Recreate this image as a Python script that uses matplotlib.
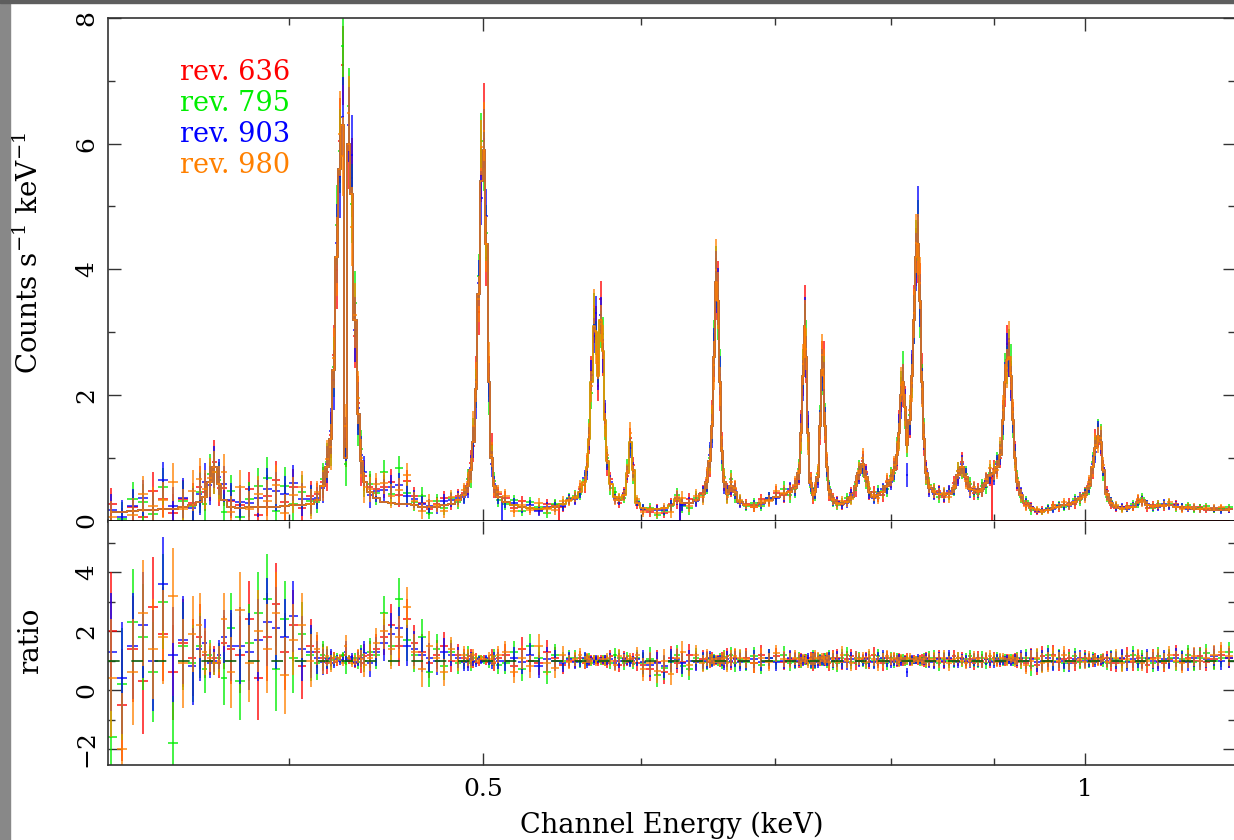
import numpy as np
import matplotlib
matplotlib.use('Agg')
import matplotlib.pyplot as plt
from matplotlib.patches import Rectangle
from matplotlib.ticker import FixedLocator, FixedFormatter, NullFormatter

plt.rcParams['font.family'] = ['DejaVu Serif']
plt.rcParams['mathtext.fontset'] = 'dejavuserif'

# channel energies (keV), one row per stretch of the spectrum
energy = [
    0.326, 0.330, 0.334, 0.338, 0.342, 0.346, 0.350, 0.354, 0.358,
    0.361, 0.363, 0.365, 0.367, 0.369, 0.371, 0.374,
    0.378, 0.382, 0.386, 0.390, 0.394, 0.398, 0.402, 0.406, 0.410,
    0.413, 0.416, 0.418, 0.4195, 0.421, 0.4225, 0.424, 0.4255, 0.427, 0.4285, 0.430, 0.4315, 0.433, 0.4345, 0.436, 0.439,
    0.442, 0.446, 0.450, 0.454, 0.458, 0.462, 0.466, 0.470, 0.474, 0.478, 0.482, 0.486, 0.489,
    0.4915, 0.493, 0.4945, 0.496, 0.4975, 0.499, 0.5005, 0.502, 0.5035, 0.505, 0.5065, 0.509,
    0.513, 0.518, 0.523, 0.528, 0.533, 0.538, 0.543, 0.548, 0.552,
    0.556, 0.559, 0.562, 0.5635, 0.565, 0.5665, 0.568, 0.5695, 0.571, 0.5725, 0.574, 0.5755, 0.577, 0.579, 0.582, 0.585, 0.588, 0.5905, 0.5925, 0.5945, 0.597,
    0.601, 0.606, 0.611, 0.616, 0.621, 0.625, 0.629, 0.634, 0.639, 0.644,
    0.647, 0.649, 0.6505, 0.652, 0.6535, 0.655, 0.6565, 0.658, 0.660, 0.6625, 0.665, 0.668, 0.672,
    0.677, 0.683, 0.689, 0.695, 0.701, 0.707, 0.712,
    0.716, 0.719, 0.721, 0.7225, 0.724, 0.7255, 0.727, 0.729, 0.731, 0.733, 0.735, 0.737, 0.7385, 0.740, 0.7415, 0.743, 0.745, 0.748,
    0.752, 0.756, 0.760, 0.764, 0.768, 0.771, 0.774, 0.777, 0.780, 0.784, 0.788, 0.792, 0.796, 0.800,
    0.803, 0.805, 0.807, 0.809, 0.811, 0.813, 0.815, 0.817, 0.819, 0.821, 0.823, 0.825, 0.827, 0.829, 0.831, 0.833, 0.836,
    0.840, 0.845, 0.850, 0.855, 0.860, 0.864, 0.868, 0.872, 0.876, 0.880, 0.884, 0.888, 0.892, 0.896, 0.900, 0.904, 0.907,
    0.910, 0.912, 0.914, 0.916, 0.918, 0.920, 0.922, 0.925, 0.929,
    0.934, 0.940, 0.946, 0.952, 0.958, 0.964, 0.970, 0.976, 0.982, 0.988, 0.994, 1.000,
    1.005, 1.009, 1.012, 1.015, 1.018, 1.021, 1.025, 1.030,
    1.036, 1.043, 1.050, 1.057, 1.063, 1.068, 1.074, 1.081, 1.088, 1.095, 1.102, 1.110, 1.118, 1.126, 1.134, 1.142, 1.150, 1.160, 1.170, 1.180,
]

# fitted model, counts s^-1 keV^-1
model = [
    0.13, 0.14, 0.15, 0.16, 0.17, 0.18, 0.19, 0.21, 0.25,
    0.30, 0.38, 0.62, 0.85, 0.58, 0.32, 0.22,
    0.20, 0.21, 0.21, 0.22, 0.22, 0.23, 0.24, 0.24, 0.26,
    0.32, 0.55, 0.85, 1.3, 2.4, 4.2, 5.6, 6.3, 1.0, 6.0, 5.2, 3.2, 1.7, 0.95, 0.62, 0.45,
    0.36, 0.30, 0.28, 0.27, 0.26, 0.24, 0.22, 0.21, 0.22, 0.24, 0.27, 0.32, 0.40,
    0.55, 0.80, 1.25, 2.1, 3.6, 5.4, 5.9, 4.4, 2.2, 1.0, 0.55, 0.38,
    0.30, 0.25, 0.22, 0.20, 0.19, 0.20, 0.22, 0.26, 0.33,
    0.36, 0.45, 0.62, 0.85, 1.3, 2.2, 3.1, 3.0, 2.3, 3.2, 2.7, 1.6, 0.95, 0.58, 0.38, 0.32, 0.40, 0.75, 1.25, 0.80, 0.28,
    0.20, 0.19, 0.19, 0.20, 0.24, 0.34, 0.28, 0.28, 0.33, 0.42,
    0.62, 0.95, 1.5, 2.6, 3.8, 3.5, 2.2, 1.1, 0.62, 0.42, 0.55, 0.45, 0.30,
    0.24, 0.24, 0.28, 0.32, 0.38, 0.42, 0.45,
    0.52, 0.75, 1.4, 2.3, 3.1, 2.6, 1.4, 0.60, 0.40, 0.45, 0.70, 1.5, 2.4, 2.3, 1.5, 0.85, 0.48, 0.32,
    0.28, 0.26, 0.30, 0.38, 0.55, 0.75, 0.90, 0.70, 0.45, 0.38, 0.40, 0.45, 0.55, 0.65,
    0.80, 1.05, 1.4, 2.0, 2.2, 1.8, 1.2, 1.6, 2.3, 3.2, 4.2, 4.4, 3.5, 2.2, 1.3, 0.75, 0.52,
    0.45, 0.42, 0.40, 0.42, 0.52, 0.72, 0.85, 0.70, 0.50, 0.48, 0.45, 0.50, 0.60, 0.72, 0.75, 0.85, 1.05,
    1.6, 2.2, 2.55, 2.6, 2.3, 1.6, 1.0, 0.62, 0.40,
    0.28, 0.20, 0.16, 0.15, 0.17, 0.20, 0.22, 0.24, 0.26, 0.30, 0.34, 0.40,
    0.55, 0.85, 1.15, 1.35, 1.25, 0.80, 0.42, 0.28,
    0.22, 0.20, 0.20, 0.22, 0.30, 0.33, 0.24, 0.22, 0.23, 0.25, 0.24, 0.22, 0.21, 0.20, 0.19, 0.18, 0.18, 0.17, 0.16, 0.16,
]

# data / model for each revolution
ratio_636 = [
    2.0, -0.5, 1.4, 0.3, 2.8, 1.9, 0.6, 1.6, 1.1,
    1.8, 1.2, 1.0, 1.1, 0.9, 1.6, 1.4,
    1.2, 2.4, 0.4, 1.8, 2.9, 1.3, 2.2, 0.8, 1.5,
    1.3, 1.1, 0.9, 1.05, 1.1, 0.95, 1.08, 1.15, 1.2, 0.98, 1.05, 0.92, 1.1, 0.9, 1.15, 1.2,
    1.4, 1.8, 2.2, 1.5, 2.4, 1.6, 1.3, 0.9, 1.2, 1.5, 1.0, 1.2, 1.1,
    1.05, 1.15, 0.95, 1.1, 0.92, 1.02, 1.1, 0.95, 1.05, 1.2, 0.9, 1.1,
    1.2, 0.8, 1.4, 1.0, 0.9, 1.3, 1.1, 0.85, 1.0,
    1.0, 1.1, 0.9, 1.05, 0.95, 1.08, 1.0, 1.05, 0.93, 1.1, 0.95, 1.05, 0.9, 1.15, 1.0, 0.85, 1.1, 0.95, 1.05, 1.1, 0.9,
    0.85, 0.7, 0.95, 0.6, 1.1, 0.9, 0.95, 1.2, 1.0, 1.05,
    1.05, 0.95, 1.1, 1.0, 0.97, 1.05, 0.93, 1.1, 1.0, 1.15, 0.95, 1.1, 1.0,
    1.1, 0.9, 1.2, 1.0, 1.15, 0.95, 1.05,
    1.05, 0.95, 1.1, 1.0, 1.08, 0.97, 1.05, 1.1, 0.9, 1.05, 1.0, 0.95, 1.05, 1.1, 0.97, 1.05, 0.9, 1.1,
    1.1, 0.95, 1.05, 1.15, 0.9, 1.0, 1.05, 1.1, 0.95, 1.2, 1.0, 0.9, 1.1, 1.0,
    1.05, 0.95, 1.1, 1.0, 0.95, 1.05, 1.1, 0.97, 1.02, 1.05, 1.0, 0.97, 1.05, 1.08, 0.95, 1.1, 1.0,
    1.0, 1.1, 0.95, 1.05, 1.15, 1.0, 1.1, 0.95, 1.05, 0.9, 1.1, 1.0, 1.05, 0.95, 1.1, 1.0, 0.95,
    1.05, 0.95, 1.1, 1.0, 0.97, 1.05, 1.1, 0.95, 1.05,
    0.9, 1.1, 0.85, 1.15, 1.0, 1.2, 0.95, 1.05, 1.1, 0.9, 1.0, 1.1,
    1.05, 0.95, 1.1, 1.0, 0.97, 1.05, 1.1, 0.9,
    0.9, 1.05, 1.15, 0.95, 1.1, 1.0, 0.85, 1.1, 1.0, 0.9, 1.05, 1.2, 0.95, 1.1, 1.0, 1.15, 0.95, 1.05, 1.2, 1.1,
]
ratio_795 = [
    -1.6, 0.2, 2.3, 1.8, 0.6, 3.0, -1.8, 1.5, 0.9,
    1.5, 0.7, 1.2, 0.9, 1.1, 0.4, 2.1,
    0.3, 1.6, 2.6, 3.1, 0.7, 2.4, 1.1, 1.9, 1.2,
    0.9, 1.2, 1.1, 0.95, 1.02, 1.12, 1.05, 1.2, 0.9, 1.1, 0.97, 1.08, 0.95, 1.2, 1.0, 1.3,
    1.2, 2.6, 1.5, 3.1, 1.7, 1.2, 1.8, 0.6, 1.4, 0.8, 1.3, 0.9, 1.0,
    1.2, 0.9, 1.1, 1.0, 1.08, 1.12, 0.97, 1.04, 0.9, 1.0, 1.15, 0.85,
    0.9, 1.3, 0.7, 1.5, 1.1, 0.6, 1.2, 1.0, 1.1,
    1.1, 0.95, 1.05, 1.0, 1.1, 0.92, 1.08, 0.97, 1.05, 0.95, 1.1, 0.92, 1.05, 0.9, 1.2, 1.1, 0.9, 1.15, 0.95, 0.88, 1.1,
    0.9, 1.05, 0.5, 0.75, 0.95, 1.2, 0.8, 0.7, 1.1, 0.95,
    0.95, 1.05, 1.0, 1.08, 1.02, 0.95, 1.1, 0.9, 1.12, 0.95, 1.2, 0.9, 1.05,
    0.95, 1.15, 0.85, 1.1, 1.0, 1.2, 0.9,
    0.95, 1.1, 0.92, 1.05, 0.98, 1.1, 0.95, 0.9, 1.1, 0.95, 1.05, 1.08, 0.97, 1.0, 1.1, 0.93, 1.1, 0.95,
    0.9, 1.1, 1.2, 0.95, 1.05, 1.1, 0.95, 0.9, 1.1, 1.0, 1.15, 1.05, 0.9, 1.1,
    0.95, 1.08, 0.97, 1.05, 1.1, 0.95, 1.0, 1.05, 0.98, 1.0, 1.03, 1.05, 0.95, 1.0, 1.1, 0.95, 1.1,
    1.1, 0.9, 1.05, 1.0, 0.95, 1.1, 0.95, 1.05, 1.15, 1.0, 0.95, 1.1, 0.9, 1.05, 1.0, 1.1, 1.05,
    0.95, 1.08, 0.97, 1.05, 1.1, 0.95, 1.0, 1.1, 0.95,
    1.1, 0.8, 1.05, 0.95, 1.2, 1.0, 1.1, 0.9, 1.0, 1.15, 0.95, 1.05,
    0.95, 1.1, 1.0, 1.05, 1.08, 0.95, 0.9, 1.1,
    1.05, 0.95, 1.0, 1.2, 0.9, 1.1, 1.05, 0.9, 1.15, 1.0, 1.1, 0.95, 1.05, 1.2, 0.95, 1.1, 1.25, 1.0, 1.1, 1.3,
]
ratio_903 = [
    1.3, 0.4, 1.5, 2.2, 1.0, 3.6, 1.2, 1.7, 0.8,
    1.4, 1.6, 0.9, 1.0, 1.2, 1.8, 1.5,
    1.5, 1.3, 1.7, 2.3, 2.1, 1.8, 2.5, 1.4, 1.3,
    1.1, 0.95, 1.05, 1.1, 0.93, 1.05, 0.98, 1.02, 1.3, 1.05, 1.12, 0.95, 1.05, 1.1, 1.25, 0.9,
    1.3, 1.6, 1.9, 2.1, 1.5, 1.4, 1.2, 1.1, 1.0, 1.3, 1.2, 1.1, 0.95,
    0.95, 1.05, 1.0, 0.92, 1.05, 0.95, 1.03, 1.1, 1.0, 0.9, 1.05, 1.0,
    1.0, 1.1, 0.95, 1.2, 0.8, 1.05, 1.0, 0.9, 1.05,
    0.95, 1.0, 1.1, 0.93, 1.0, 1.05, 0.95, 1.1, 1.0, 1.02, 0.97, 1.08, 1.0, 1.05, 0.9, 1.0, 1.05, 1.0, 0.92, 1.0, 1.05,
    0.95, 0.85, 0.9, 0.8, 1.0, 1.05, 0.9, 1.0, 0.95, 1.0,
    1.0, 1.1, 0.95, 1.03, 1.0, 1.02, 1.05, 1.0, 0.92, 1.05, 1.0, 1.05, 0.95,
    1.0, 1.05, 0.95, 1.1, 0.95, 1.0, 1.1,
    1.0, 1.0, 1.05, 0.97, 1.02, 1.0, 1.1, 0.95, 1.05, 1.0, 0.95, 1.02, 1.0, 0.96, 1.05, 1.0, 1.05, 1.0,
    1.05, 1.0, 0.95, 1.05, 1.1, 0.97, 1.0, 1.05, 1.0, 0.95, 1.05, 1.1, 1.0, 0.95,
    1.0, 1.0, 1.05, 0.95, 1.0, 1.02, 0.6, 1.0, 1.05, 1.0, 0.98, 1.1, 1.0, 0.97, 1.02, 1.05, 0.95,
    0.95, 1.05, 1.0, 1.1, 1.0, 0.95, 1.05, 1.0, 0.95, 1.05, 1.0, 0.95, 1.05, 1.0, 0.95, 1.05, 1.0,
    1.0, 1.02, 1.05, 1.0, 0.95, 1.0, 1.05, 1.0, 1.1,
    1.0, 1.05, 0.95, 1.0, 1.1, 0.95, 1.05, 1.0, 0.9, 1.05, 1.1, 1.0,
    1.0, 1.05, 0.95, 1.02, 1.0, 1.05, 1.0, 1.05,
    1.0, 1.1, 0.95, 1.05, 1.0, 0.95, 1.1, 1.0, 0.95, 1.05, 1.0, 1.1, 1.0, 0.95, 1.1, 1.0, 1.05, 1.15, 1.0, 1.1,
]
ratio_980 = [
    0.4, -2.0, 0.6, 2.6, 1.4, 1.8, 3.2, 0.9, 1.9,
    2.2, 1.3, 1.1, 0.9, 1.0, 2.4, 0.6,
    2.7, 0.9, 2.0, 1.4, 2.6, 0.5, 1.7, 2.2, 1.0,
    1.4, 1.0, 1.15, 0.9, 1.08, 1.0, 1.1, 0.92, 1.5, 1.08, 0.9, 1.02, 1.15, 1.05, 0.85, 1.1,
    1.6, 2.0, 1.4, 1.8, 2.8, 1.3, 0.7, 1.5, 1.1, 0.6, 1.4, 1.0, 1.2,
    1.1, 1.0, 1.2, 1.05, 0.98, 1.1, 1.05, 1.0, 1.15, 1.05, 0.95, 1.2,
    1.3, 0.6, 1.1, 0.8, 1.5, 0.9, 0.75, 1.2, 0.95,
    1.05, 1.2, 0.95, 1.1, 1.05, 0.97, 1.1, 0.92, 1.08, 0.98, 1.05, 0.95, 1.1, 1.0, 0.85, 1.15, 1.0, 1.05, 1.12, 0.95, 1.2,
    0.7, 0.9, 0.65, 1.0, 0.55, 1.1, 1.3, 0.85, 1.2, 0.9,
    1.1, 1.0, 1.05, 0.95, 1.05, 1.0, 0.97, 1.05, 1.08, 0.9, 1.1, 1.15, 1.1,
    1.05, 0.9, 1.1, 0.95, 1.25, 1.05, 1.0,
    1.1, 1.05, 0.95, 1.08, 1.0, 1.05, 0.9, 1.05, 1.0, 1.1, 1.08, 1.0, 1.1, 1.05, 1.0, 1.1, 0.95, 1.05,
    0.95, 1.2, 1.0, 0.9, 1.1, 1.05, 1.1, 0.95, 1.15, 1.05, 0.9, 1.0, 1.15, 1.05,
    1.1, 1.02, 0.95, 1.08, 1.0, 0.98, 1.05, 1.1, 0.95, 1.03, 1.05, 1.0, 1.08, 0.95, 1.05, 0.97, 1.05,
    1.05, 1.0, 1.1, 0.9, 1.05, 1.1, 1.0, 0.9, 1.0, 1.1, 1.05, 0.95, 1.1, 1.15, 1.05, 0.95, 1.1,
    1.1, 1.0, 0.95, 1.1, 1.02, 1.08, 0.95, 1.05, 1.0,
    0.85, 1.0, 1.1, 0.9, 0.95, 1.15, 1.0, 1.2, 0.95, 1.0, 1.05, 0.95,
    1.1, 1.0, 1.05, 0.95, 1.05, 1.1, 0.95, 1.0,
    1.1, 0.9, 1.05, 1.0, 1.15, 0.9, 1.0, 1.05, 1.1, 0.95, 1.2, 1.0, 0.9, 1.05, 1.15, 1.0, 1.1, 1.2, 1.3, 1.15,
]

# 1-sigma error on the ratio (same binning for all revolutions)
ratio_err = [
    2.0, 1.9, 1.8, 1.8, 1.7, 1.6, 1.6, 1.5, 1.3,
    1.1, 0.8, 0.5, 0.4, 0.5, 0.9, 1.2,
    1.3, 1.3, 1.4, 1.5, 1.4, 1.3, 1.2, 1.1, 0.9,
    0.55, 0.45, 0.35, 0.28, 0.2, 0.15, 0.12, 0.1, 0.35, 0.1, 0.12, 0.16, 0.25, 0.32, 0.4, 0.45,
    0.5, 0.6, 0.7, 0.7, 0.7, 0.6, 0.6, 0.5, 0.5, 0.45, 0.4, 0.35, 0.3,
    0.3, 0.25, 0.2, 0.15, 0.1, 0.08, 0.08, 0.1, 0.14, 0.2, 0.25, 0.3,
    0.35, 0.35, 0.4, 0.4, 0.4, 0.4, 0.35, 0.3, 0.25,
    0.25, 0.22, 0.2, 0.17, 0.14, 0.11, 0.09, 0.09, 0.1, 0.09, 0.1, 0.12, 0.15, 0.19, 0.22, 0.24, 0.22, 0.15, 0.13, 0.16, 0.25,
    0.4, 0.4, 0.4, 0.4, 0.38, 0.34, 0.36, 0.36, 0.32, 0.3,
    0.28, 0.22, 0.18, 0.15, 0.13, 0.13, 0.14, 0.18, 0.24, 0.28, 0.27, 0.28, 0.3,
    0.32, 0.32, 0.31, 0.3, 0.29, 0.28, 0.27,
    0.25, 0.2, 0.16, 0.14, 0.13, 0.13, 0.15, 0.2, 0.25, 0.25, 0.2, 0.15, 0.14, 0.14, 0.15, 0.19, 0.24, 0.27,
    0.28, 0.28, 0.27, 0.25, 0.21, 0.19, 0.18, 0.19, 0.23, 0.25, 0.25, 0.24, 0.22, 0.2,
    0.19, 0.18, 0.16, 0.14, 0.13, 0.14, 0.16, 0.15, 0.13, 0.12, 0.11, 0.11, 0.12, 0.13, 0.16, 0.19, 0.22,
    0.24, 0.24, 0.25, 0.24, 0.21, 0.19, 0.18, 0.19, 0.22, 0.22, 0.22, 0.21, 0.2, 0.19, 0.19, 0.18, 0.16,
    0.15, 0.13, 0.12, 0.12, 0.12, 0.13, 0.16, 0.2, 0.25,
    0.3, 0.34, 0.34, 0.34, 0.33, 0.32, 0.3, 0.29, 0.28, 0.27, 0.25, 0.24,
    0.21, 0.18, 0.16, 0.15, 0.15, 0.16, 0.21, 0.26,
    0.28, 0.3, 0.3, 0.29, 0.25, 0.25, 0.28, 0.3, 0.3, 0.3, 0.3, 0.31, 0.31, 0.31, 0.32, 0.32, 0.32, 0.33, 0.33, 0.34,
]

revs = ['rev. 636', 'rev. 795', 'rev. 903', 'rev. 980']
colors = ['#ff0000', '#00ee00', '#0000ff', '#ff8000']
ratios = [ratio_636, ratio_795, ratio_903, ratio_980]
# energy ranges where a revolution has no model (chip gaps)
model_gaps = {'rev. 636': [(0.545, 0.627), (0.898, 1.2)],
              'rev. 903': [(0.511, 0.626)]}

e = np.array(energy)
m = np.array(model)
rerr = np.array(ratio_err)
mid = 0.5 * (e[1:] + e[:-1])
lo = np.r_[e[0] - (mid[0] - e[0]), mid]
hi = np.r_[mid, e[-1] + (e[-1] - mid[-1])]
xerr = [e - lo, hi - e]

W, H = 1234, 840
fig = plt.figure(figsize=(W / 100, H / 100), dpi=100)
ax1 = fig.add_axes([108 / W, 1 - 520.5 / H, 1127 / W, 502.5 / H])
ax2 = fig.add_axes([108 / W, 1 - 765 / H, 1127 / W, 244.5 / H], sharex=ax1)

for name, c, r in zip(revs, colors, ratios):
    r = np.array(r)
    ax1.errorbar(e, m * r, xerr=xerr, yerr=m * rerr, fmt='none',
                 ecolor=c, elinewidth=1.2, capsize=0, alpha=0.85)
    mm = m.copy()
    for a, b in model_gaps.get(name, []):
        mm[(e > a) & (e < b)] = 0
    ax1.step(e, mm, where='mid', color=c, lw=1.1)
    ax2.errorbar(e, r, xerr=xerr, yerr=rerr, fmt='none',
                 ecolor=c, elinewidth=1.2, capsize=0, alpha=0.85)

ax2.axhline(1, color='#0b5d0b', lw=1.2, ls=(0, (7, 7)), zorder=5)

for i, (name, c) in enumerate(zip(revs, colors)):
    ax1.text(0.064, 0.8925 - i * 0.0617, name, color=c, fontsize=19.5,
             ha='left', va='center', transform=ax1.transAxes)

ax1.set_xscale('log')
ax1.set_xlim(0.3247, 1.1884)
ax1.set_ylim(0, 8)
ax2.set_ylim(-2.542, 5.746)

for ax in (ax1, ax2):
    ax.xaxis.set_major_locator(FixedLocator([0.5, 1.0]))
    ax.xaxis.set_minor_locator(FixedLocator([0.4, 0.6, 0.7, 0.8, 0.9]))
    ax.xaxis.set_minor_formatter(NullFormatter())
    ax.tick_params(which='both', direction='in', top=True, right=True,
                   color='#333333', labelsize=18)
    ax.tick_params(which='major', length=9, width=1)
    ax.tick_params(which='minor', length=5, width=1)
    ax.tick_params(axis='y', labelrotation=90, pad=7)
    for s in ax.spines.values():
        s.set_color('#333333')
        s.set_linewidth(1.2)

ax1.yaxis.set_major_locator(FixedLocator([0, 2, 4, 6, 8]))
ax1.yaxis.set_minor_locator(FixedLocator([1, 3, 5, 7]))
ax2.yaxis.set_major_locator(FixedLocator([-2, 0, 2, 4]))
ax2.yaxis.set_minor_locator(FixedLocator([-1, 1, 3, 5]))
ax1.tick_params(axis='x', labelbottom=False)
ax2.xaxis.set_major_formatter(FixedFormatter(['0.5', '1']))
ax2.tick_params(axis='x', pad=9)
for ax in (ax1, ax2):
    for lab in ax.get_yticklabels():
        lab.set_va('center')

ax1.spines['bottom'].set_color('black')
ax1.spines['bottom'].set_linewidth(2)
ax2.spines['top'].set_visible(False)

ax1.set_ylabel('Counts s$^{-1}$ keV$^{-1}$', fontsize=20)
ax1.yaxis.set_label_coords(-0.057, 0.532)
ax2.set_ylabel('ratio', fontsize=20)
ax2.yaxis.set_label_coords(-0.057, 0.506)
ax2.set_xlabel('Channel Energy (keV)', fontsize=19.5, labelpad=8)

# grey window frame around the plot
fig.patches.append(Rectangle((0, 0), 10 / W, 1, transform=fig.transFigure,
                             color='#888888', zorder=-1))
fig.patches.append(Rectangle((0, 1 - 3 / H), 1, 3 / H, transform=fig.transFigure,
                             color='#5e5e5e', zorder=-1))

fig.savefig('out.png', dpi=100)
